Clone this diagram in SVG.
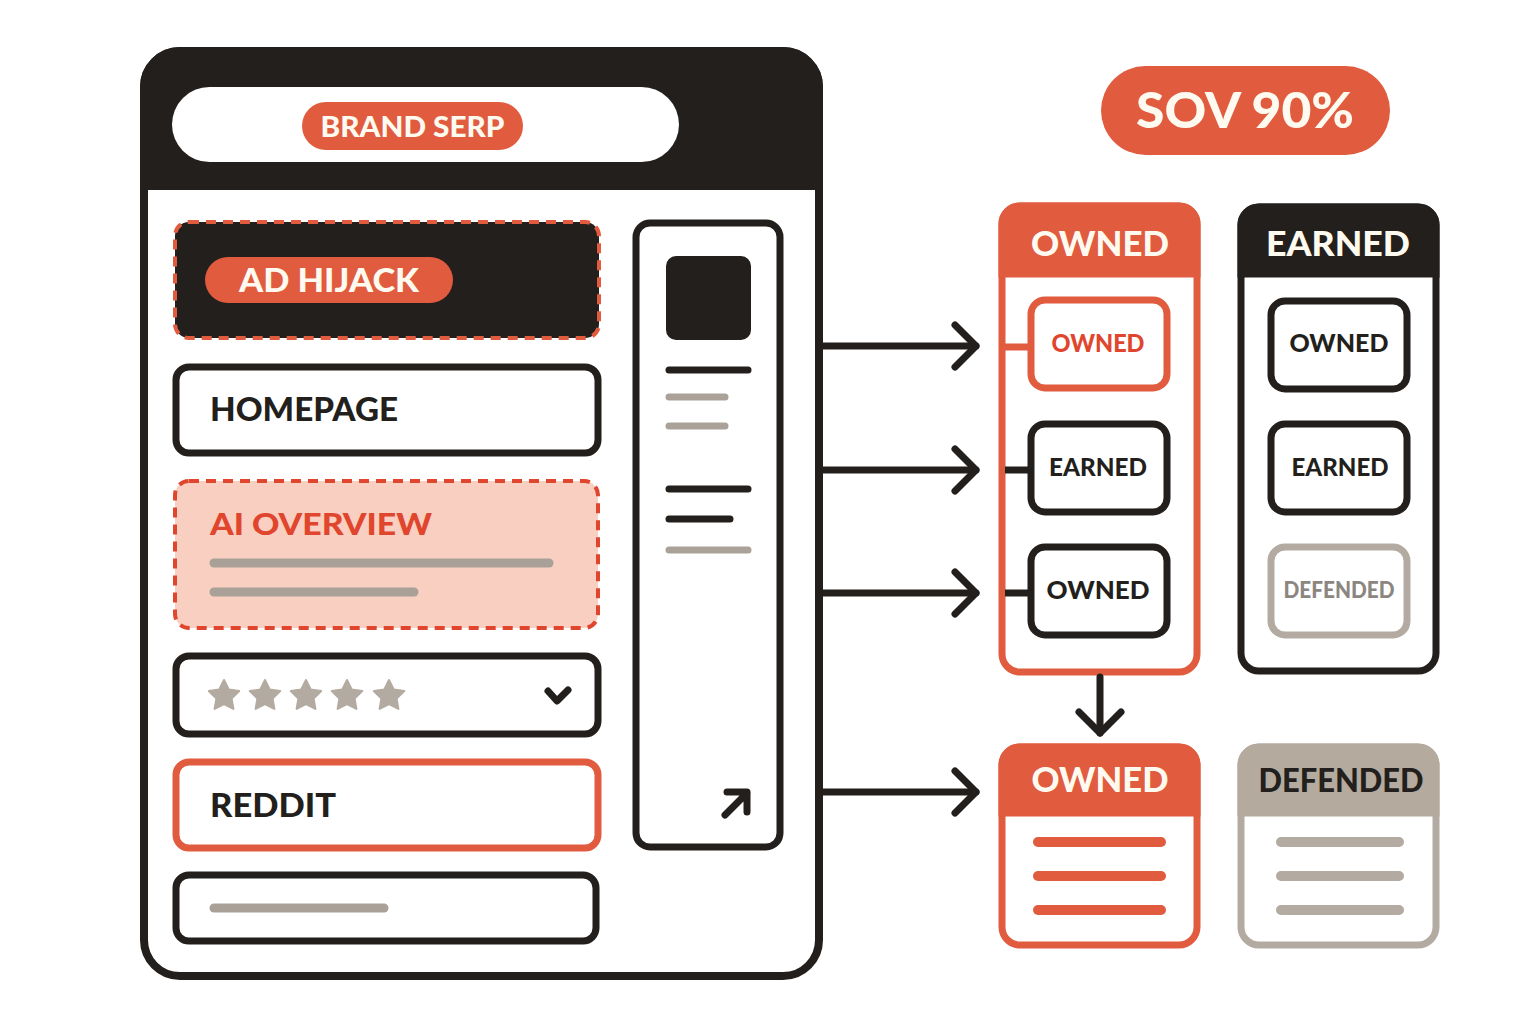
<svg xmlns="http://www.w3.org/2000/svg" width="1536" height="1024" viewBox="0 0 1536 1024">
<defs>
<style>
.dk{stroke:#231f1c;stroke-width:7;fill:#fff}
.rd{stroke:#e15b3f;stroke-width:7;fill:#fff}
.gy{stroke:#b3aba1;stroke-width:7;fill:#fff}
.t{font-family:Lato,"Open Sans","Liberation Sans",sans-serif;font-weight:900}
.w{fill:#fffaf0}
.k{fill:#231f1c}
.r{fill:#e0452e}
.bar{stroke-linecap:round;fill:none}
.conn{stroke:#231f1c;stroke-width:7;fill:none;stroke-linecap:round;stroke-linejoin:round}
</style>
<marker id="chev" viewBox="0 0 24 44" refX="22" refY="22" markerWidth="24" markerHeight="44" markerUnits="userSpaceOnUse" orient="auto" overflow="visible">
<path d="M1,1 L22,22 L1,43" fill="none" stroke="#231f1c" stroke-width="7" stroke-linecap="round" stroke-linejoin="round"/>
</marker>
<polygon id="star" points="0,-16 4.7,-6.5 15.2,-4.9 7.6,2.5 9.4,12.9 0,8 -9.4,12.9 -7.6,2.5 -15.2,-4.9 -4.7,-6.5" fill="#b3aba1" stroke="#b3aba1" stroke-width="2" stroke-linejoin="round"/>
</defs>
<rect width="1536" height="1024" fill="#fff"/>

<g id="serp">
<rect x="144" y="51" width="675" height="925" rx="36" fill="#fff" stroke="#231f1c" stroke-width="8"/>
<path d="M144,186 V87 A36,36 0 0 1 180,51 H783 A36,36 0 0 1 819,87 V186 Z" fill="#231f1c" stroke="#231f1c" stroke-width="8"/>
<rect x="172" y="87" width="507" height="75" rx="37.5" fill="#fff"/>
<rect x="302" y="102" width="221" height="48" rx="24" fill="#e15b3f"/>
<text class="t w" x="412.5" y="137" font-size="28" text-anchor="middle" textLength="184" lengthAdjust="spacingAndGlyphs">BRAND SERP</text>
</g>

<g id="ad-hijack">
<rect x="175" y="222" width="424" height="116" rx="14" fill="#231f1c" stroke="#e15b3f" stroke-width="4" stroke-dasharray="10 7"/>
<rect x="205" y="257" width="248" height="46" rx="23" fill="#e15b3f"/>
<text class="t w" x="329" y="292" font-size="32" text-anchor="middle" textLength="180" lengthAdjust="spacingAndGlyphs">AD HIJACK</text>
</g>

<g id="homepage">
<rect class="dk" x="176" y="367" width="422" height="86" rx="13"/>
<text class="t k" x="210" y="421" font-size="32" textLength="188" lengthAdjust="spacingAndGlyphs">HOMEPAGE</text>
</g>

<g id="ai-overview">
<rect x="175" y="481" width="423" height="147" rx="14" fill="#f8cfc0" stroke="#e0452e" stroke-width="4" stroke-dasharray="10 7"/>
<text class="t r" x="210" y="535" font-size="31" textLength="222" lengthAdjust="spacingAndGlyphs">AI OVERVIEW</text>
<line class="bar" x1="214" y1="563" x2="549" y2="563" stroke="#a9a197" stroke-width="9"/>
<line class="bar" x1="214" y1="592" x2="414" y2="592" stroke="#a9a197" stroke-width="9"/>
</g>

<g id="reviews">
<rect class="dk" x="176" y="656" width="422" height="78" rx="13"/>
<use href="#star" x="224" y="696"/>
<use href="#star" x="265" y="696"/>
<use href="#star" x="306" y="696"/>
<use href="#star" x="347" y="696"/>
<use href="#star" x="389" y="696"/>
<path d="M548,691 L557,701 L568,690" fill="none" stroke="#231f1c" stroke-width="7" stroke-linecap="round" stroke-linejoin="round"/>
</g>

<g id="reddit">
<rect class="rd" x="176" y="762" width="422" height="86" rx="13"/>
<text class="t k" x="210" y="817" font-size="32" textLength="126" lengthAdjust="spacingAndGlyphs">REDDIT</text>
</g>

<g id="result">
<rect class="dk" x="176" y="875" width="420" height="66" rx="13"/>
<line class="bar" x1="214" y1="908" x2="384" y2="908" stroke="#a9a197" stroke-width="9"/>
</g>

<g id="sidebar">
<rect class="dk" x="636" y="223" width="144" height="624" rx="14"/>
<rect x="666" y="256" width="85" height="84" rx="10" fill="#231f1c"/>
<line class="bar" x1="669" y1="370" x2="748" y2="370" stroke="#231f1c" stroke-width="7"/>
<line class="bar" x1="669" y1="397" x2="725" y2="397" stroke="#aaa298" stroke-width="7"/>
<line class="bar" x1="669" y1="426" x2="725" y2="426" stroke="#aaa298" stroke-width="7"/>
<line class="bar" x1="669" y1="489" x2="748" y2="489" stroke="#231f1c" stroke-width="7"/>
<line class="bar" x1="669" y1="519" x2="730" y2="519" stroke="#231f1c" stroke-width="7"/>
<line class="bar" x1="669" y1="550" x2="748" y2="550" stroke="#aaa298" stroke-width="7"/>
<path d="M725,815 L747,793 M727,792 H747 V812" fill="none" stroke="#231f1c" stroke-width="7" stroke-linecap="round" stroke-linejoin="round"/>
</g>

<g id="sov">
<rect x="1101" y="66" width="289" height="89" rx="44.5" fill="#e15b3f"/>
<text class="t w" x="1245" y="128" font-size="50" text-anchor="middle" textLength="218" lengthAdjust="spacingAndGlyphs">SOV 90%</text>
</g>

<g id="owned-column">
<rect class="rd" x="1002" y="206" width="195" height="466" rx="18"/>
<path d="M1002,274 V224 A18,18 0 0 1 1020,206 H1179 A18,18 0 0 1 1197,224 V274 Z" fill="#e15b3f" stroke="#e15b3f" stroke-width="7"/>
<text class="t w" x="1100" y="256" font-size="35" text-anchor="middle" textLength="138" lengthAdjust="spacingAndGlyphs">OWNED</text>
<line x1="1005" y1="347" x2="1031" y2="347" stroke="#e15b3f" stroke-width="7"/>
<line x1="1005" y1="470" x2="1031" y2="470" stroke="#231f1c" stroke-width="7"/>
<line x1="1005" y1="593" x2="1031" y2="593" stroke="#231f1c" stroke-width="7"/>
<rect class="rd" x="1031" y="300" width="136" height="88" rx="14"/>
<text class="t r" x="1098" y="352" font-size="24" text-anchor="middle" textLength="93" lengthAdjust="spacingAndGlyphs">OWNED</text>
<rect class="dk" x="1031" y="424" width="136" height="88" rx="14"/>
<text class="t k" x="1098" y="476" font-size="24" text-anchor="middle" textLength="98" lengthAdjust="spacingAndGlyphs">EARNED</text>
<rect class="dk" x="1031" y="547" width="136" height="88" rx="14"/>
<text class="t k" x="1098" y="599" font-size="24" text-anchor="middle" textLength="103" lengthAdjust="spacingAndGlyphs">OWNED</text>
</g>

<g id="earned-column">
<rect class="dk" x="1241" y="207" width="195" height="464" rx="18"/>
<path d="M1241,274 V225 A18,18 0 0 1 1259,207 H1418 A18,18 0 0 1 1436,225 V274 Z" fill="#231f1c" stroke="#231f1c" stroke-width="7"/>
<text class="t w" x="1338" y="256" font-size="35" text-anchor="middle" textLength="144" lengthAdjust="spacingAndGlyphs">EARNED</text>
<rect class="dk" x="1271" y="301" width="136" height="88" rx="14"/>
<text class="t k" x="1339" y="352" font-size="24" text-anchor="middle" textLength="99" lengthAdjust="spacingAndGlyphs">OWNED</text>
<rect class="dk" x="1271" y="424" width="136" height="88" rx="14"/>
<text class="t k" x="1340" y="476" font-size="24" text-anchor="middle" textLength="97" lengthAdjust="spacingAndGlyphs">EARNED</text>
<rect class="gy" x="1271" y="547" width="136" height="88" rx="14"/>
<text class="t" x="1339" y="598" font-size="22" text-anchor="middle" fill="#8c8680" textLength="111" lengthAdjust="spacingAndGlyphs">DEFENDED</text>
</g>

<g id="owned-card">
<rect class="rd" x="1002" y="747" width="195" height="198" rx="18"/>
<path d="M1002,813 V765 A18,18 0 0 1 1020,747 H1179 A18,18 0 0 1 1197,765 V813 Z" fill="#e15b3f" stroke="#e15b3f" stroke-width="7"/>
<text class="t w" x="1100" y="792" font-size="35" text-anchor="middle" textLength="137" lengthAdjust="spacingAndGlyphs">OWNED</text>
<line class="bar" x1="1038" y1="842" x2="1161" y2="842" stroke="#e15b3f" stroke-width="10"/>
<line class="bar" x1="1038" y1="876" x2="1161" y2="876" stroke="#e15b3f" stroke-width="10"/>
<line class="bar" x1="1038" y1="910" x2="1161" y2="910" stroke="#e15b3f" stroke-width="10"/>
</g>

<g id="defended-card">
<rect class="gy" x="1241" y="747" width="195" height="198" rx="18" stroke="#b5aa9e"/>
<path d="M1241,813 V765 A18,18 0 0 1 1259,747 H1418 A18,18 0 0 1 1436,765 V813 Z" fill="#b5aa9e" stroke="#b5aa9e" stroke-width="7"/>
<text class="t k" x="1341" y="792" font-size="32" text-anchor="middle" textLength="165" lengthAdjust="spacingAndGlyphs">DEFENDED</text>
<line class="bar" x1="1281" y1="842" x2="1399" y2="842" stroke="#b3aba1" stroke-width="10"/>
<line class="bar" x1="1281" y1="876" x2="1399" y2="876" stroke="#b3aba1" stroke-width="10"/>
<line class="bar" x1="1281" y1="910" x2="1399" y2="910" stroke="#b3aba1" stroke-width="10"/>
</g>

<g id="connectors">
<line class="conn" x1="823" y1="346" x2="976" y2="346" marker-end="url(#chev)"/>
<line class="conn" x1="823" y1="470" x2="976" y2="470" marker-end="url(#chev)"/>
<line class="conn" x1="823" y1="593" x2="976" y2="593" marker-end="url(#chev)"/>
<line class="conn" x1="823" y1="792" x2="976" y2="792" marker-end="url(#chev)"/>
<line class="conn" x1="1100" y1="677" x2="1100" y2="733" marker-end="url(#chev)"/>
</g>
</svg>
